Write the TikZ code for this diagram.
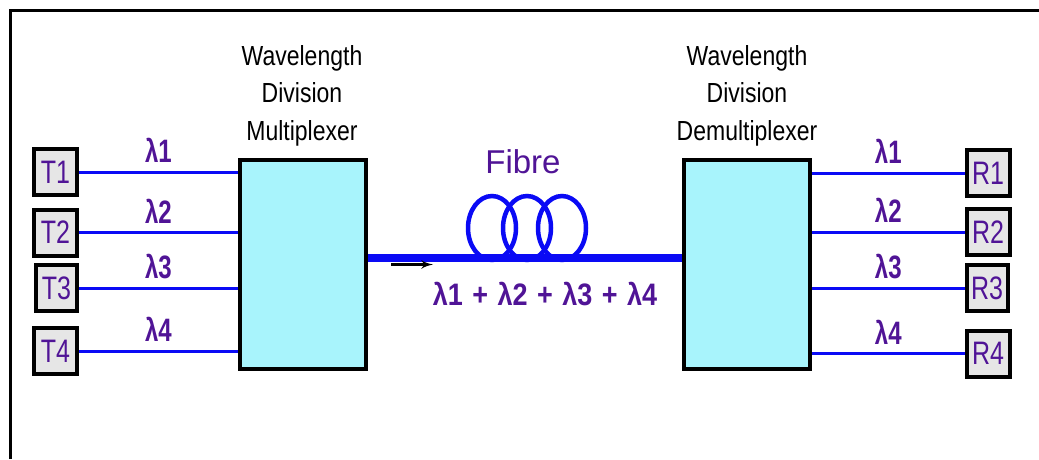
\documentclass[tikz,border=0pt]{standalone}
\usepackage{fontspec}
\usepackage{graphicx}
\setmainfont{Liberation Sans}
\usetikzlibrary{shapes,arrows}
\definecolor{wdmblue}{RGB}{10,10,245}
\definecolor{wdmpurple}{RGB}{80,20,150}
\definecolor{wdmcyan}{RGB}{168,244,252}
\definecolor{wdmgray}{RGB}{230,230,230}
\newcommand{\tallbox}[1]{\scalebox{1}[1.3]{#1}}
\tikzstyle{port} = [rectangle, draw=black, line width=4pt, fill=wdmgray, text=wdmpurple,
    minimum width=43pt, minimum height=46pt, inner sep=0pt,
    font=\fontsize{25}{25}\selectfont]
\tikzstyle{mux} = [rectangle, draw=black, line width=4pt, fill=wdmcyan,
    minimum width=126pt, minimum height=209pt]
\tikzstyle{title} = [align=center, anchor=base, text=black,
    font=\fontsize{23}{31}\selectfont, yscale=1.2]
\tikzstyle{line} = [draw=wdmblue, line width=3pt]
\tikzstyle{lam} = [midway, above=7pt, text=wdmpurple, inner sep=0pt,
    font=\fontsize{24}{24}\selectfont\bfseries, yscale=1.35]
\tikzstyle{fibre} = [draw=wdmblue, line width=8.5pt]
\tikzstyle{coil} = [draw=wdmblue, line width=4.5pt]

\begin{document}
\begin{tikzpicture}[x=1pt,y=-1pt]
  \useasboundingbox (0,0) rectangle (1039,459);
  \draw [line width=3pt] (10,459) -- (10,10) -- (1039,10);

  % multiplexer side
  \node [mux] (mux) at (303,264.5) {};
  \node [title] (muxtitle) at (302,140) {Wavelength\\Division\\Multiplexer};
  \node [port] (t1) at (55.5,172) {\tallbox{T1}};
  \node [port] (t2) at (55.5,232.5) {\tallbox{T2}};
  \node [port, minimum width=41pt] (t3) at (56.5,288) {\tallbox{T3}};
  \node [port] (t4) at (55.5,351) {\tallbox{T4}};

  % demultiplexer side
  \node [mux] (demux) at (747,264.5) {};
  \node [title] (demuxtitle) at (747,140) {Wavelength\\Division\\Demultiplexer};
  \node [port] (r1) at (988,173) {\tallbox{R1}};
  \node [port] (r2) at (988,232) {\tallbox{R2}};
  \node [port, minimum width=41pt] (r3) at (987,288) {\tallbox{R3}};
  \node [port] (r4) at (988,353.5) {\tallbox{R4}};

  \path [line] (t1.east) -- (t1.east -| mux.west) node [lam] {λ1};
  \path [line] (t2.east) -- (t2.east -| mux.west) node [lam] {λ2};
  \path [line] (t3.east) -- (t3.east -| mux.west) node [lam] {λ3};
  \path [line] (t4.east) -- (t4.east -| mux.west) node [lam] {λ4};

  \path [line] (r1.west -| demux.east) -- (r1.west) node [lam] {λ1};
  \path [line] (r2.west -| demux.east) -- (r2.west) node [lam] {λ2};
  \path [line] (r3.west -| demux.east) -- (r3.west) node [lam] {λ3};
  \path [line] (r4.west -| demux.east) -- (r4.west) node [lam] {λ4};

  % fibre with its loops
  \draw [coil] (492,228) ellipse (24 and 32);
  \draw [coil] (527,228) ellipse (24 and 32);
  \draw [coil] (562,228) ellipse (24 and 32);
  \path [fibre] ([yshift=6.5pt]mux.east) -- ([yshift=6.5pt]demux.west)
    node [midway, below=19pt, xshift=20pt, text=wdmpurple, inner sep=0pt,
      font=\fontsize{27}{27}\selectfont\bfseries, yscale=1.15] (sum)
      {λ1\hspace{0.35em}+\hspace{0.35em}λ2\hspace{0.35em}+\hspace{0.35em}λ3\hspace{0.35em}+\hspace{0.35em}λ4};
  \node [text=wdmpurple, font=\fontsize{33}{33}\selectfont] (fibrelabel) at (523,162) {Fibre};
  \coordinate (arrtail) at (391,264.5);
  \draw [-latex', line width=3pt] (arrtail) -- ++(42,0);
\end{tikzpicture}
\end{document}
